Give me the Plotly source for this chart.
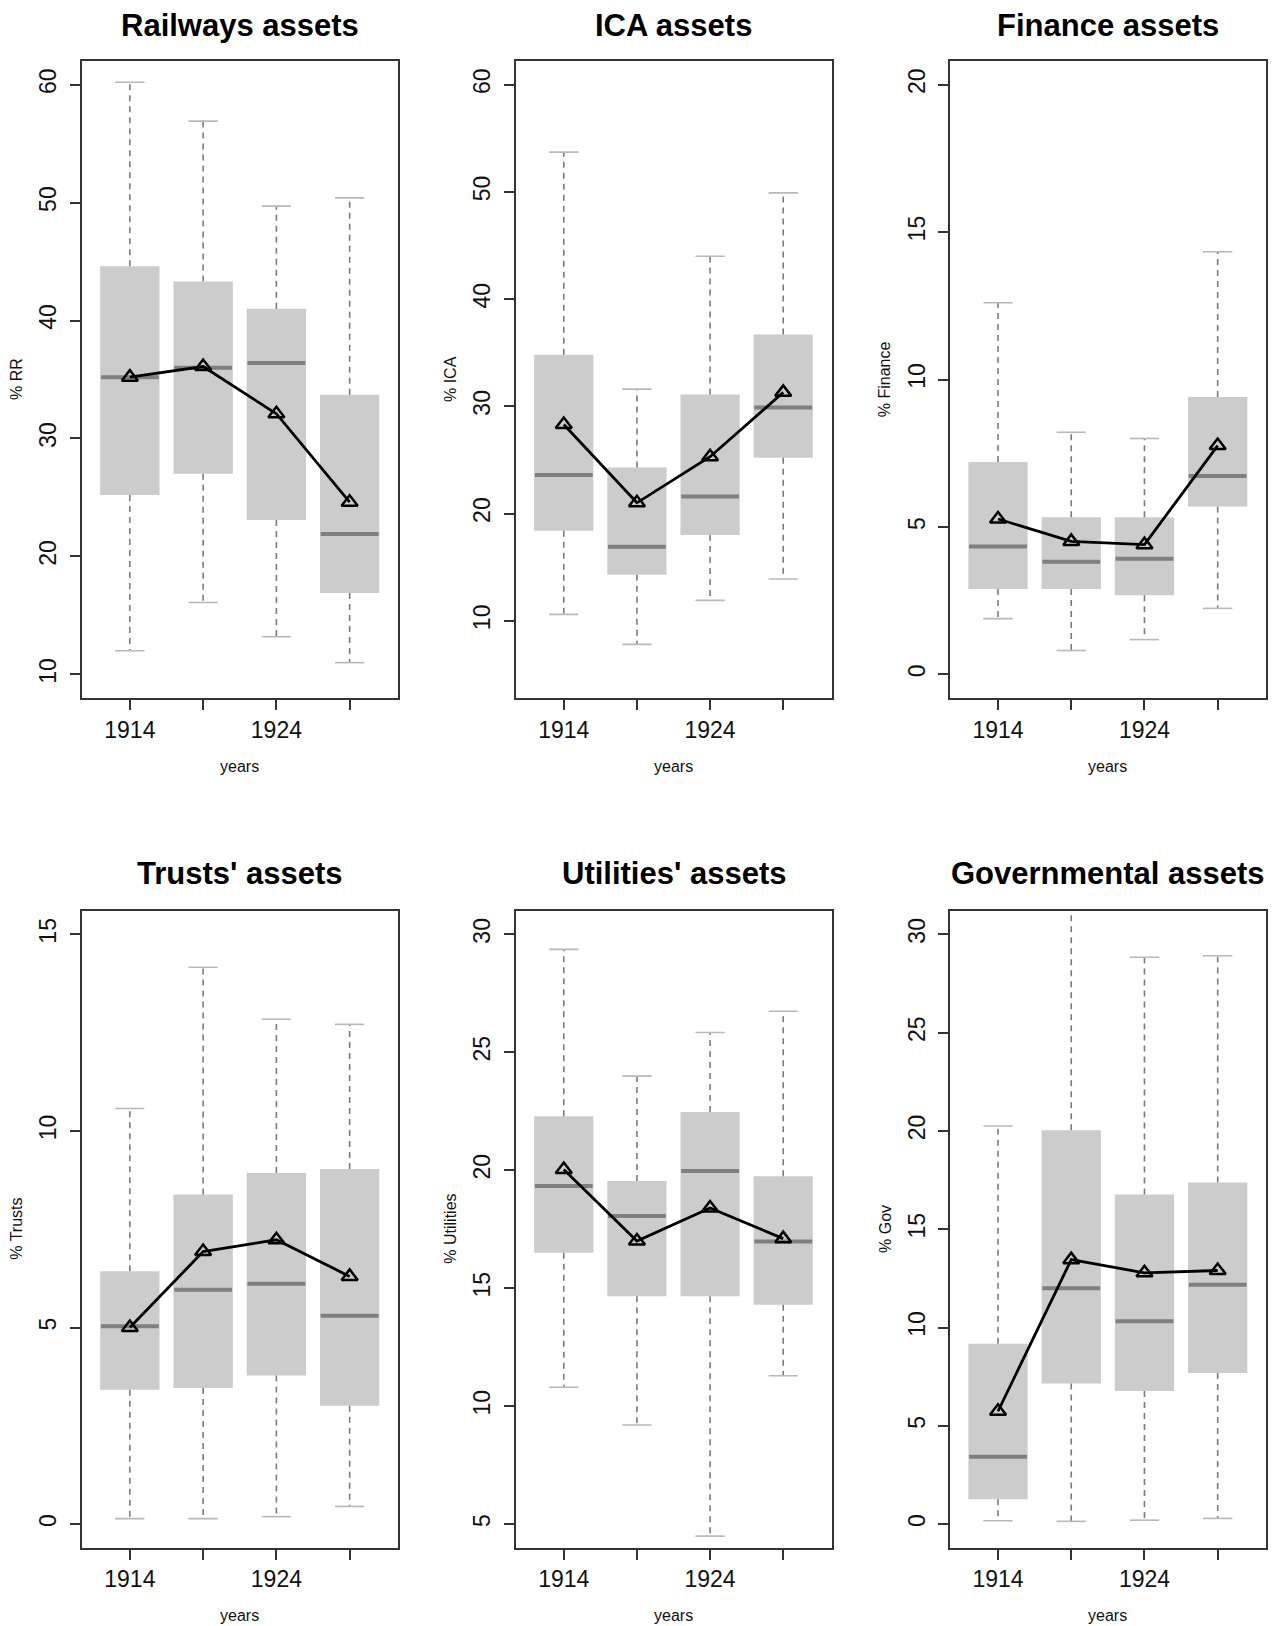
import plotly.graph_objects as go

# ---------------- data ----------------
years_ticks = ["1914", "", "1924", ""]   # labels as printed (2nd and 4th were dropped by R)

# Railways (% RR)
rr_low  = [12.0, 16.1, 13.2, 11.0]
rr_q1   = [25.2, 27.0, 23.1, 16.9]
rr_med  = [35.2, 36.0, 36.4, 21.9]
rr_q3   = [44.6, 43.3, 41.0, 33.7]
rr_high = [60.2, 56.9, 49.7, 50.4]
rr_mean = [35.2, 36.1, 32.1, 24.6]

# ICA (% ICA)
ica_low  = [10.6, 7.8, 11.9, 13.9]
ica_q1   = [18.4, 14.3, 18.0, 25.2]
ica_med  = [23.6, 16.9, 21.6, 29.9]
ica_q3   = [34.8, 24.3, 31.1, 36.7]
ica_high = [53.7, 31.6, 44.0, 49.9]
ica_mean = [28.3, 21.0, 25.3, 31.3]

# Finance (% Finance)
fin_low  = [1.89, 0.81, 1.18, 2.24]
fin_q1   = [2.90, 2.90, 2.68, 5.69]
fin_med  = [4.34, 3.82, 3.92, 6.73]
fin_q3   = [7.20, 5.33, 5.33, 9.41]
fin_high = [12.6, 8.21, 8.00, 14.33]
fin_mean = [5.27, 4.51, 4.40, 7.76]

# Trusts (% Trusts)
tr_low  = [0.14, 0.14, 0.19, 0.45]
tr_q1   = [3.42, 3.46, 3.78, 3.01]
tr_med  = [5.03, 5.96, 6.11, 5.30]
tr_q3   = [6.43, 8.38, 8.93, 9.03]
tr_high = [10.57, 14.16, 12.84, 12.71]
tr_mean = [5.00, 6.93, 7.23, 6.30]

# Utilities (% Utilities)
ut_low  = [10.8, 9.2, 4.49, 11.29]
ut_q1   = [16.5, 14.66, 14.66, 14.3]
ut_med  = [19.33, 18.06, 19.97, 16.98]
ut_q3   = [22.29, 19.54, 22.47, 19.74]
ut_high = [29.36, 23.99, 25.84, 26.74]
ut_mean = [20.03, 17.0, 18.4, 17.1]

# Governmental (% Gov)
gov_low  = [0.17, 0.14, 0.20, 0.29]
gov_q1   = [1.27, 7.15, 6.77, 7.69]
gov_med  = [3.43, 12.0, 10.32, 12.17]
gov_q3   = [9.17, 20.03, 16.76, 17.37]
gov_high = [20.25, 32.5, 28.83, 28.91]
gov_mean = [5.74, 13.45, 12.78, 12.9]

panels = [
    ("Railways assets", "% RR", (10, 60), 10, rr_low, rr_q1, rr_med, rr_q3, rr_high, rr_mean),
    ("ICA assets", "% ICA", (5, 60), 10, ica_low, ica_q1, ica_med, ica_q3, ica_high, ica_mean),
    ("Finance assets", "% Finance", (0, 20), 5, fin_low, fin_q1, fin_med, fin_q3, fin_high, fin_mean),
    ("Trusts' assets", "% Trusts", (0, 15), 5, tr_low, tr_q1, tr_med, tr_q3, tr_high, tr_mean),
    ("Utilities' assets", "% Utilities", (5, 30), 5, ut_low, ut_q1, ut_med, ut_q3, ut_high, ut_mean),
    ("Governmental assets", "% Gov", (0, 30), 5, gov_low, gov_q1, gov_med, gov_q3, gov_high, gov_mean),
]

# ---------------- layout geometry (pixels) ----------------
W, H = 1274, 1626
cols_px = [(81.5, 398.0), (515.5, 831.5), (949.7, 1266.0)]
rows_px = [(61.0, 698.0), (910.7, 1547.7)]

FONT = "Liberation Sans, Arial, Helvetica, sans-serif"
BOX_FILL = "#cccccc"
MED_COL = "#7f7f7f"
WHISK_COL = "#7a7a7a"
STAPLE_COL = "#b8b8b8"
BOXW = 0.81
STAPLE = 0.40

fig = go.Figure()
layout = dict(
    width=W, height=H, autosize=False,
    margin=dict(l=0, r=0, t=0, b=0),
    paper_bgcolor="white", plot_bgcolor="white",
    showlegend=False,
    font=dict(family=FONT, color="#111111"),
)
annotations = []

pos = [1, 2, 3, 4]

for k, (title, ylab, ylim, step, lo, q1, med, q3, hi, mean) in enumerate(panels):
    r, c = divmod(k, 3)
    x0, x1 = cols_px[c]
    y0, y1 = rows_px[r]
    xa = "xaxis" if k == 0 else f"xaxis{k+1}"
    ya = "yaxis" if k == 0 else f"yaxis{k+1}"
    xr = "x" if k == 0 else f"x{k+1}"
    yr = "y" if k == 0 else f"y{k+1}"

    # boxes
    fig.add_trace(go.Bar(
        x=pos, y=[b - a for a, b in zip(q1, q3)], base=q1, width=BOXW,
        marker=dict(color=BOX_FILL, line=dict(width=0)),
        xaxis=xr, yaxis=yr, hoverinfo="skip"))

    # whiskers (dashed)
    wx, wy = [], []
    for p, a, b, l, h in zip(pos, q1, q3, lo, hi):
        wx += [p, p, None, p, p, None]
        wy += [b, h, None, a, l, None]
    fig.add_trace(go.Scatter(x=wx, y=wy, mode="lines",
                             line=dict(color=WHISK_COL, width=1.6, dash="6px,5px"),
                             xaxis=xr, yaxis=yr, hoverinfo="skip", cliponaxis=True))

    # staples
    sx, sy = [], []
    for p, l, h in zip(pos, lo, hi):
        sx += [p - STAPLE / 2, p + STAPLE / 2, None, p - STAPLE / 2, p + STAPLE / 2, None]
        sy += [h, h, None, l, l, None]
    fig.add_trace(go.Scatter(x=sx, y=sy, mode="lines",
                             line=dict(color=STAPLE_COL, width=1.6),
                             xaxis=xr, yaxis=yr, hoverinfo="skip"))

    # medians
    mx, my = [], []
    for p, m in zip(pos, med):
        mx += [p - BOXW / 2 + 0.01, p + BOXW / 2 - 0.01, None]
        my += [m, m, None]
    fig.add_trace(go.Scatter(x=mx, y=my, mode="lines",
                             line=dict(color=MED_COL, width=4),
                             xaxis=xr, yaxis=yr, hoverinfo="skip"))

    # means
    fig.add_trace(go.Scatter(x=pos, y=mean, mode="lines+markers",
                             line=dict(color="black", width=2.8),
                             marker=dict(symbol="triangle-up-open", size=14,
                                         color="black", line=dict(width=2.5, color="black")),
                             xaxis=xr, yaxis=yr, hoverinfo="skip"))

    ext = 0.04 * (ylim[1] - ylim[0])
    layout[xa] = dict(
        domain=[x0 / W, x1 / W], anchor=yr, range=[0.34, 4.66],
        tickmode="array", tickvals=pos, ticktext=years_ticks,
        ticks="outside", ticklen=10, tickwidth=1.6, tickcolor="#333333",
        tickfont=dict(size=23, family=FONT, color="#111111"),
        showgrid=False, zeroline=False,
        showline=True, mirror=True, linecolor="#333333", linewidth=2,
    )
    layout[ya] = dict(
        domain=[1 - y1 / H, 1 - y0 / H], anchor=xr,
        range=[ylim[0] - ext, ylim[1] + ext],
        tickmode="linear", tick0=ylim[0] if ylim[0] % step == 0 else step * (ylim[0] // step + 1), dtick=step,
        ticks="outside", ticklen=10, tickwidth=1.6, tickcolor="#333333",
        tickangle=-90, ticklabelstandoff=4,
        tickfont=dict(size=23, family=FONT, color="#111111"),
        showgrid=False, zeroline=False,
        showline=True, mirror=True, linecolor="#333333", linewidth=2,
    )

    cx = (x0 + x1) / 2
    # title
    annotations.append(dict(text=f"<b>{title}</b>", x=cx / W, y=1 - (25 if r == 0 else 873) / H,
                            xref="paper", yref="paper", showarrow=False,
                            xanchor="center", yanchor="middle",
                            font=dict(size=31, family=FONT, color="black")))
    # x label
    annotations.append(dict(text="years", x=cx / W, y=1 - (y1 + 68) / H,
                            xref="paper", yref="paper", showarrow=False,
                            xanchor="center", yanchor="middle",
                            font=dict(size=16, family=FONT, color="#111111")))
    # y label
    annotations.append(dict(text=ylab, x=(x0 - 65) / W, y=1 - ((y0 + y1) / 2) / H,
                            xref="paper", yref="paper", showarrow=False, textangle=-90,
                            xanchor="center", yanchor="middle",
                            font=dict(size=16, family=FONT, color="#111111")))

layout["annotations"] = annotations
fig.update_layout(**layout)
fig.write_html("out.html",
               config={"displayModeBar": False},
               post_script="document.body.style.margin='0';document.body.style.padding='0';"
                           "document.documentElement.style.overflow='hidden';")
